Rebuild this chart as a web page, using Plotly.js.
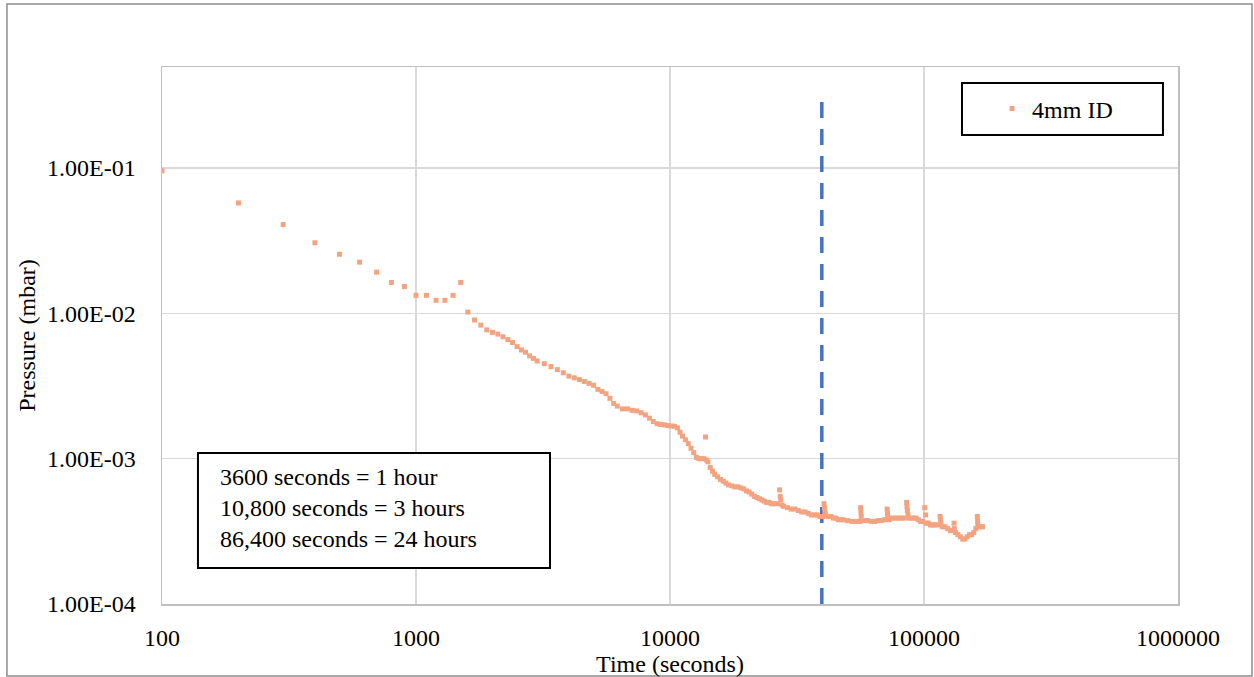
<!DOCTYPE html>
<html>
<head>
<meta charset="utf-8">
<script src="https://cdn.plot.ly/plotly-3.0.1.min.js"></script>
<style>
  html, body { margin: 0; padding: 0; background: #ffffff; }
  #chart { width: 1254px; height: 677px; }
</style>
</head>
<body>
<div id="chart"></div>
<script>
// ---- Data ----
const seriesName = "4mm ID";

const timeSec = [
  100, 200, 300, 400, 500, 600, 700, 800, 900, 1000,
  1100, 1200, 1300, 1400, 1500, 1600, 1700, 1800, 1900, 2000,
  2100, 2200, 2300, 2400, 2500, 2600, 2700, 2800, 2900, 3000,
  3200, 3400, 3600, 3800, 4000, 4200, 4400, 4600, 4800, 5000,
  5200, 5400, 5600, 5800, 6000, 6200, 6500, 6800, 7100, 7400,
  7700, 8000, 8300, 8600, 8900, 9200, 9500, 9800, 10100, 10400,
  10700, 10950, 11200, 11500, 11800, 12100, 12400, 12700, 13000, 13300,
  13600, 13800, 13900, 14100, 14400, 14700, 15000, 15400, 15800, 16200,
  16600, 17000, 17500, 18000, 18500, 19000, 19500, 20000, 20500, 21000,
  21500, 22000, 22500, 23000, 23500, 24000, 24500, 25000, 25500, 26000,
  26500, 27000, 27150, 27300, 27600, 28000, 29000, 30000, 31000, 32000, 33000,
  34000, 35000, 36000, 37000, 38000, 39000, 40000, 40400, 40550, 40700, 41000,
  42000, 43000, 44000, 45000, 46000, 47000, 48000, 50000, 52000, 54000,
  56000, 56300, 56450, 56600, 57000, 58000, 60000, 62000, 64000, 66000, 68000,
  70000, 71600, 71800, 72000, 73000, 75000, 77000, 79000, 81000, 83000, 85400,
  85700, 86000, 86500, 87000, 89000, 91000, 93000, 95000, 97000, 99000, 100700,
  101500, 102000, 104000, 106000, 108000, 110000, 113000, 115700, 116100, 116500, 118000,
  121000, 124000, 127000, 130000, 131300, 131700, 133000, 136000, 139000, 142000, 145000,
  148000, 151000, 154000, 157000, 160000, 162200, 162600, 163000, 165000, 168000, 170000
];

const pressureMbar = [
  0.0957, 0.0575, 0.0408, 0.0306, 0.0255, 0.0225, 0.0192, 0.0163, 0.0153, 0.0133,
  0.0133, 0.0123, 0.0123, 0.0133, 0.0163, 0.0102, 0.0090, 0.0083, 0.0077, 0.0074,
  0.0072, 0.0069, 0.0066, 0.0063, 0.0059, 0.0056, 0.0054, 0.0051, 0.0049, 0.0047,
  0.0045, 0.0043, 0.0041, 0.0039, 0.0037, 0.0036, 0.0035, 0.0034, 0.0033, 0.0032,
  0.0030, 0.0029, 0.0028, 0.0026, 0.0024, 0.0023, 0.0022, 0.0022, 0.00215, 0.00213,
  0.00207, 0.00200, 0.00190, 0.00180, 0.00174, 0.00172, 0.00171, 0.00169, 0.00168, 0.00167,
  0.00163, 0.00152, 0.00143, 0.00135, 0.00127, 0.00118, 0.00110, 0.00102, 0.00100, 0.00100,
  0.00100, 0.00141, 0.00098, 0.00095, 0.00087, 0.00082, 0.00078, 0.00075, 0.00072, 0.00070,
  0.00068, 0.00066, 0.00065, 0.00064, 0.00064, 0.00063, 0.00062, 0.00060, 0.00059, 0.00057,
  0.00055, 0.00054, 0.00053, 0.00052, 0.00051, 0.00050, 0.00050, 0.00049, 0.00049, 0.00049,
  0.00049, 0.00061, 0.00055, 0.00052, 0.00048, 0.00047, 0.00046, 0.00045, 0.00045, 0.00044, 0.00043,
  0.00043, 0.00042, 0.00041, 0.00041, 0.00041, 0.00040, 0.00040, 0.00049, 0.00046, 0.00043, 0.00041,
  0.00040, 0.00040, 0.00039, 0.00039, 0.00038, 0.00038, 0.00038, 0.000375, 0.00037, 0.00037,
  0.00037, 0.00046, 0.00043, 0.00040, 0.000375, 0.000375, 0.000375, 0.00037, 0.00037, 0.000375, 0.000375,
  0.00038, 0.00045, 0.00042, 0.00040, 0.00038, 0.00039, 0.00039, 0.00039, 0.00039, 0.00039, 0.00050,
  0.00047, 0.00044, 0.00041, 0.00039, 0.00039, 0.00039, 0.00039, 0.00038, 0.00037, 0.00037, 0.00046,
  0.00041, 0.00036, 0.00036, 0.00035, 0.00035, 0.00035, 0.00035, 0.00040, 0.00038, 0.00036, 0.00034,
  0.00034, 0.00033, 0.00032, 0.00032, 0.00036, 0.00033, 0.00031, 0.00030, 0.00029, 0.00028, 0.00028,
  0.00029, 0.00030, 0.00030, 0.00031, 0.00033, 0.00040, 0.00037, 0.00035, 0.00034, 0.00034, 0.00034
];

// vertical dashed marker line (11 hours)
const markerTime = [39600, 39600];
const markerPressure = [0.0001, 0.33];

const yTickVals = [0.0001, 0.001, 0.01, 0.1];
const yTickText = ["1.00E-04", "1.00E-03", "1.00E-02", "1.00E-01"];
const xTickVals = [100, 1000, 10000, 100000, 1000000];
const xTickText = ["100", "1000", "10000", "100000", "1000000"];

const noteLines = [
  "3600 seconds = 1 hour",
  "10,800 seconds = 3 hours",
  "86,400 seconds = 24 hours"
];

// ---- Chart ----
const FONT = "Liberation Serif";
const FS = 24;
const TXT = { family: FONT, size: FS, color: "#000000" };

const traces = [
  {
    x: markerTime,
    y: markerPressure,
    type: "scatter",
    mode: "lines",
    line: { color: "#4472C4", width: 3.5, dash: "16px,11px" },
    showlegend: false,
    hoverinfo: "skip"
  },
  {
    x: timeSec,
    y: pressureMbar,
    type: "scatter",
    mode: "markers",
    name: seriesName,
    marker: { symbol: "square", size: 5, color: "#F3A380" }
  }
];

const layout = {
  width: 1254,
  height: 677,
  margin: { l: 162, r: 76, t: 67, b: 73 },
  paper_bgcolor: "#ffffff",
  plot_bgcolor: "#ffffff",
  font: TXT,
  showlegend: true,
  legend: {
    x: 0.817, xanchor: "left",
    y: 0.922, yanchor: "middle",
    bgcolor: "rgba(0,0,0,0)",
    borderwidth: 0,
    font: TXT,
    itemwidth: 30
  },
  xaxis: {
    type: "log",
    range: [2, 6],
    tickvals: xTickVals,
    ticktext: xTickText,
    ticks: "outside",
    ticklen: 12,
    tickcolor: "rgba(0,0,0,0)",
    showgrid: true,
    gridcolor: "#d9d9d9",
    gridwidth: 1.5,
    showline: true,
    linecolor: "#bfbfbf",
    linewidth: 1.5,
    mirror: true,
    zeroline: false,
    tickfont: TXT,
    title: { text: "Time (seconds)", font: TXT, standoff: 0 }
  },
  yaxis: {
    type: "log",
    range: [-4, -0.305],
    tickvals: yTickVals,
    ticktext: yTickText,
    ticks: "outside",
    ticklen: 20,
    tickcolor: "rgba(0,0,0,0)",
    showgrid: true,
    gridcolor: "#d9d9d9",
    gridwidth: 1.5,
    showline: true,
    linecolor: "#bfbfbf",
    linewidth: 1.5,
    mirror: true,
    zeroline: false,
    tickfont: TXT,
    title: { text: "Pressure (mbar)", font: TXT, standoff: 4 }
  },
  shapes: [
    // outer chart border
    { type: "rect", xref: "paper", yref: "paper", x0: -0.1526, x1: 1.0728, y0: -0.1341, y1: 1.1173,
      line: { color: "#8c8c8c", width: 1.5 }, fillcolor: "rgba(0,0,0,0)", layer: "below" },
    // legend box
    { type: "rect", xref: "paper", yref: "paper", x0: 0.7874, x1: 0.9852, y0: 0.8734, y1: 0.9702,
      line: { color: "#000000", width: 2 }, fillcolor: "#ffffff", layer: "above" },
    // note box
    { type: "rect", xref: "paper", yref: "paper", x0: 0.0354, x1: 0.3819, y0: 0.0670, y1: 0.2812,
      line: { color: "#000000", width: 2 }, fillcolor: "#ffffff", layer: "above" }
  ],
  annotations: [
    {
      xref: "paper", yref: "paper",
      x: 0.0551, y: 0.1788, xanchor: "left", yanchor: "middle",
      align: "left", showarrow: false,
      text: noteLines.join("<br>"),
      font: TXT
    }
  ]
};

Plotly.newPlot("chart", traces, layout, { displayModeBar: false, staticPlot: true });
</script>
</body>
</html>
